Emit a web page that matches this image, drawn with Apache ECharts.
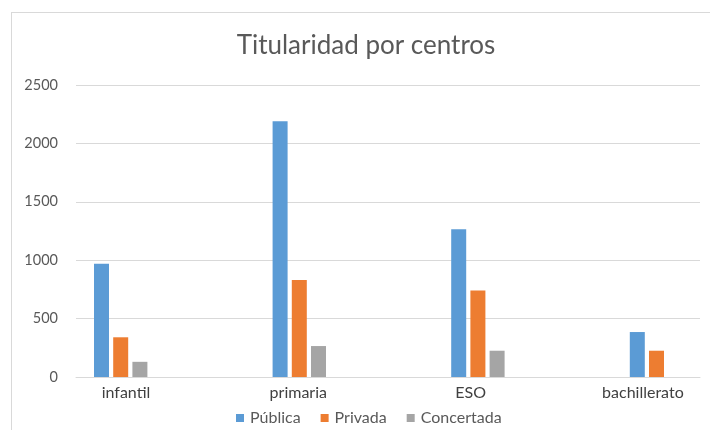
<!DOCTYPE html>
<html><head><meta charset="utf-8">
<script src="https://cdn.jsdelivr.net/npm/echarts@6/dist/echarts.min.js"></script>
<style>
html,body{margin:0;padding:0;background:#fff;}
#frame{position:absolute;left:11px;top:12px;width:710px;height:430px;border-left:1px solid #D9D9D9;border-top:1px solid #D9D9D9;}
#main{position:absolute;left:0;top:0;width:710px;height:430px;}
</style></head>
<body>
<div id="frame"></div>
<div id="main"></div>
<script>
const categories = ['infantil', 'primaria', 'ESO', 'bachillerato'];
const publica = [970, 2190, 1265, 385];
const privada = [340, 830, 740, 225];
const concertada = [130, 265, 225, 0];
const yTicks = [0, 500, 1000, 1500, 2000, 2500];

const FONT = 'Lato';
const chart = echarts.init(document.getElementById('main'), null, {renderer: 'canvas'});
const gTop = 85, gBottom = 53;
const idx = arr => arr.map((v, i) => [i, v]);
const barCommon = {type: 'bar', xAxisIndex: 1, yAxisIndex: 1, barWidth: 15, barGap: '28%'};
chart.setOption({
  animation: false,
  backgroundColor: 'transparent',
  title: {
    text: 'Titularidad por centros', left: 361, top: 28, textAlign: 'center',
    textStyle: {fontFamily: FONT, fontSize: 26, fontWeight: 'normal', color: '#595959'}
  },
  legend: {
    data: ['Pública', 'Privada', 'Concertada'],
    left: 231, top: 405, icon: 'rect', itemWidth: 8, itemHeight: 8, itemGap: 20,
    textStyle: {fontFamily: FONT, fontSize: 16, color: '#595959', padding: [0, 0, 0, 1]}
  },
  grid: [
    {left: 76, right: 10, top: gTop, bottom: gBottom},
    {left: 41, right: 0, top: gTop, bottom: gBottom},
    {left: 126, right: 0, top: gTop, bottom: gBottom}
  ],
  xAxis: [
    {type: 'category', gridIndex: 0, data: categories,
     axisLine: {lineStyle: {color: '#D9D9D9'}}, axisTick: {show: false}, axisLabel: {show: false}},
    {type: 'value', gridIndex: 1, min: -0.5, max: -0.5 + 669 / 178.6, show: false},
    {type: 'value', gridIndex: 2, min: 0, max: 584 / 172.3, interval: 1, splitLine: {show: false},
     axisLine: {show: false}, axisTick: {show: false},
     axisLabel: {fontFamily: FONT, fontSize: 16, color: '#404040', margin: 8, showMaxLabel: false,
                 formatter: v => (Number.isInteger(v) && categories[v]) ? categories[v] : ''}}
  ],
  yAxis: [
    {type: 'value', gridIndex: 0, min: yTicks[0], max: yTicks[yTicks.length - 1], interval: 500,
     axisLine: {show: false}, axisTick: {show: false},
     axisLabel: {fontFamily: FONT, fontSize: 14.5, color: '#595959', margin: 18, formatter: v => String(v)},
     splitLine: {lineStyle: {color: '#D9D9D9'}}},
    {type: 'value', gridIndex: 1, min: 0, max: 2500, show: false},
    {type: 'value', gridIndex: 2, min: 0, max: 2500, show: false}
  ],
  series: [
    Object.assign({name: 'Pública', data: idx(publica), itemStyle: {color: '#5B9BD5'}}, barCommon),
    Object.assign({name: 'Privada', data: idx(privada), itemStyle: {color: '#ED7D31'}}, barCommon),
    Object.assign({name: 'Concertada', data: idx(concertada), itemStyle: {color: '#A5A5A5'}}, barCommon),
    Object.assign({name: '', data: idx([null, null, null, null])}, barCommon)
  ]
});
</script>
</body></html>
